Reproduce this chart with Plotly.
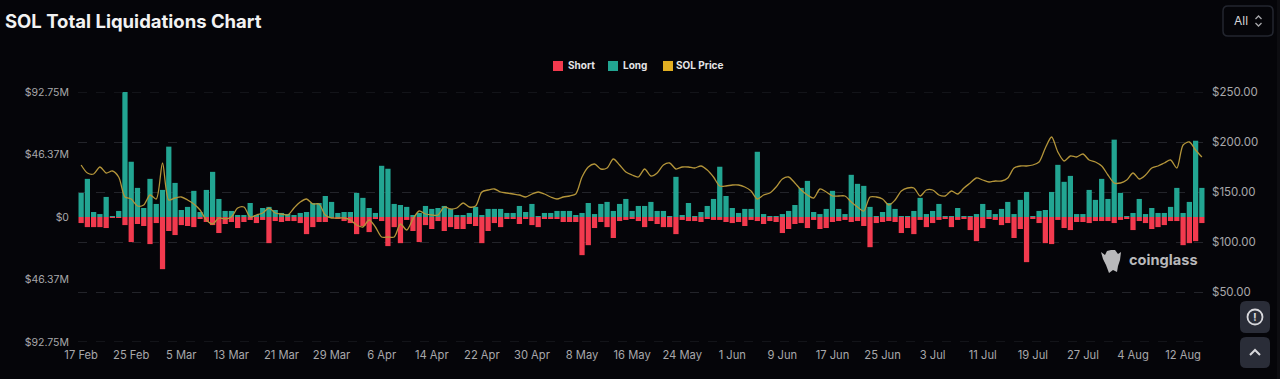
import pandas as pd
import plotly.graph_objects as go

dates = pd.date_range("2025-02-17", periods=180)
date_labels = [f"{d.day} {d.strftime('%b')}" for d in dates]

long_m = [17.9,28.3,3.7,2.2,14.9,0.7,4.5,92.75,41,21.6,6.7,28.3,9.7,20.1,52.2,25.3,5.2,7.5,19.4,3.7,
          20.1,33.5,13.4,4.5,4.5,1.5,1.5,10.4,1.5,6.7,7.5,5.2,3,2.2,1.5,3,3.7,10.4,10.4,15.6,
          11.2,3,3.7,3.7,17.9,14.2,6.7,3,38,35.8,9.7,8.9,7.5,1.5,3,8.2,6,6.7,8.2,6,
          1.5,1.5,3,7.5,1.5,6,6,6,3,3,8.2,3.7,9.7,0.7,3,3,4.5,4.5,4.5,1.5,
          3,10.4,2.2,9.7,11.2,4.5,9.7,13.4,4.5,8.2,8.2,11.2,4.5,4.5,0.7,29.8,1.5,10.4,0.7,3.7,
          8.2,13.4,37.3,15.6,6.7,3,6,6,48.4,2.2,0.7,0.7,2.2,4.5,8.9,21.6,26.8,3.7,2.2,6,
          19.4,6,2.2,31.3,24.6,23.1,7.5,0.7,3.7,10.4,6,0.7,0.7,4.5,14.2,2.2,4.5,9.7,0.7,0.7,
          6.7,0.7,0.7,2.2,9.7,5.2,2.2,6,11.2,2.2,12.7,18.6,0.7,4.5,5.2,18.6,38.7,26.1,30.5,2.2,
          2.2,20.1,12.7,28.3,13.4,57.4,17.9,0.7,3,13.4,2.2,6.7,3,3,7.5,21.6,3,11.2,56.6,21.6]

short_m = [4.5,7.5,7.5,7.5,8.2,0.7,0.7,6,18.6,5.2,6.7,20.1,4.5,38.7,10.4,13.4,6,6.7,7.5,1.5,
           3.7,6,11.9,5.2,3.7,8.2,3.7,2.2,4.5,2.2,19.4,3,3.7,3,3,4.5,12.7,7.5,3.7,3.7,
           0.7,1.5,3,4.5,12.7,6.7,11.2,1.5,3,21.6,7.5,19.4,2.2,10.4,18.6,6,8.9,3,10.4,7.5,
           8.9,8.9,5.2,6.7,19.4,10.4,4.5,7.5,1.5,1.5,5.2,1.5,6,7.5,1.5,1.5,1.5,3.7,3.7,3.7,
           28.3,20.9,8.2,3.7,7.5,15.6,3,2.2,1.5,3,7.5,3,5.2,7.5,7.5,12.7,2.2,3,3,3.7,
           1.5,2.2,2.2,3.7,4.5,3.7,6.7,2.2,3,5.2,3,3.7,11.9,8.9,5.2,4.5,8.2,2.2,8.9,8.2,
           3.7,3,2.2,3.7,3,6.7,22.4,4.5,3.7,3,3.7,11.9,8.2,12.7,2.2,7.5,4.5,2.2,1.5,7.5,
           2.2,1.5,9.7,17.9,8.2,1.5,2.2,6,4.5,15.6,8.9,33.5,1.5,4.5,19.4,20.1,2.2,8.2,9.7,3.7,
           3.7,4.5,3,3,3,4.5,2.2,1.5,9.7,3,4.5,8.9,7.5,6,3,3,20.9,19.4,17.9,4.5]

price = [177,169,168,175,169,171,165,145,143,136,137,147,143,179,142,144,145,142,138,132,
         122,118,124,123,125,134,135,125,127,129,134,129,128,127,134,140,143,138,138,127,
         124,124,124,122,117,115,122,115,105,105,105,118,112,123,131,128,127,127,135,133,
         134,139,135,136,150,152,153,150,149,148,147,145,148,150,148,145,143,145,146,148,
         165,175,178,173,174,183,177,170,167,165,173,166,169,177,179,173,175,175,174,176,
         172,165,156,156,157,157,155,151,143,147,149,155,163,165,159,152,147,144,153,150,
         146,146,146,140,135,131,145,145,143,137,142,151,154,154,146,152,152,147,146,151,
         148,154,159,164,162,160,161,161,164,174,176,176,177,180,194,205,190,181,186,185,
         188,182,180,176,167,159,159,162,169,163,167,174,176,179,182,174,197,200,192,185]

left_vals = [-92.75, -46.37, 0, 46.37, 92.75]
left_text = ["$92.75M", "$46.37M", "$0", "$46.37M", "$92.75M"]
right_vals = [0, 50, 100, 150, 200, 250]
right_text = ["", "$50.00", "$100.00", "$150.00", "$200.00", "$250.00"]
legend_names = ["Short", "Long", "SOL Price"]

BG = "#050509"
GREEN = "#22a592"
RED = "#f23a4e"
YELLOW = "#e0ae22"
LINE = "#b4953a"
TICK = "#a8a8ab"
GRID = "#23242a"
FONT = "Inter, Roboto, sans-serif"

W, H = 1280, 379
L, R, T, B = 78, 75, 92, 37
pw, ph = W - L - R, H - T - B
def X(p): return (p - L) / pw
def Y(p): return (H - B - p) / ph

def rounded(x0, y0, x1, y1, r):
    return (f"M {X(x0+r)} {Y(y0)} L {X(x1-r)} {Y(y0)} Q {X(x1)} {Y(y0)} {X(x1)} {Y(y0+r)} "
            f"L {X(x1)} {Y(y1-r)} Q {X(x1)} {Y(y1)} {X(x1-r)} {Y(y1)} "
            f"L {X(x0+r)} {Y(y1)} Q {X(x0)} {Y(y1)} {X(x0)} {Y(y1-r)} "
            f"L {X(x0)} {Y(y0+r)} Q {X(x0)} {Y(y0)} {X(x0+r)} {Y(y0)} Z")

def poly(points, close=True):
    s = "M " + " L ".join(f"{X(a)} {Y(b)}" for a, b in points)
    return s + (" Z" if close else "")

fig = go.Figure()
fig.add_bar(x=date_labels, y=[-v for v in short_m], name="Short", marker=dict(color=RED, line_width=0), width=0.84, showlegend=False)
fig.add_bar(x=date_labels, y=long_m, name="Long", marker=dict(color=GREEN, line_width=0), width=0.84, showlegend=False)
fig.add_scatter(x=date_labels, y=price, yaxis="y2", mode="lines", name="SOL Price", showlegend=False,
                line=dict(color=LINE, width=1.3, shape="spline", smoothing=0.8))

def chip(x0, y0, x1, y1, color):
    return dict(type="rect", xref="paper", yref="paper", x0=X(x0), x1=X(x1), y0=Y(y1), y1=Y(y0),
                line_width=0, fillcolor=color)

icon = dict(color="#d8d8dc", width=2)
shapes = [
    dict(type="line", xref="paper", yref="y2", x0=0, x1=1, y0=250, y1=250, line=dict(color=GRID, width=1, dash="dash")),
    dict(type="line", xref="paper", yref="y2", x0=0, x1=1, y0=0, y1=0, line=dict(color=GRID, width=1, dash="dash")),
    dict(type="path", xref="paper", yref="paper", path=rounded(1223, 6, 1273, 36, 5),
         line=dict(color="#23262f", width=1.5), fillcolor=BG),
    dict(type="path", xref="paper", yref="paper", path=rounded(1240, 301, 1270, 333, 6),
         line_width=0, fillcolor="#2a2d38"),
    dict(type="path", xref="paper", yref="paper", path=rounded(1240, 337, 1270, 368, 6),
         line_width=0, fillcolor="#2a2d38"),
    dict(type="circle", xref="paper", yref="paper", x0=X(1247.5), x1=X(1262.5), y0=Y(324.5), y1=Y(309.5),
         line=dict(color="#d8d8dc", width=1.8)),
    dict(type="path", xref="paper", yref="paper", path=poly([(1250, 355), (1255, 350), (1260, 355)], close=False), line=icon),
    dict(type="path", xref="paper", yref="paper", path=poly([(1255.5, 19), (1258.5, 16), (1261.5, 19)], close=False),
         line=dict(color="#a8a8ab", width=1.3)),
    dict(type="path", xref="paper", yref="paper", path=poly([(1255.5, 23), (1258.5, 26), (1261.5, 23)], close=False),
         line=dict(color="#a8a8ab", width=1.3)),
    dict(type="path", xref="paper", yref="paper",
         path=poly([(1101, 252), (1105, 255), (1107, 251), (1111, 250), (1115, 250), (1118, 254), (1121, 252), (1120, 260),
                    (1118, 266), (1117, 272), (1113, 270), (1109, 273), (1106, 265), (1103, 259)]),
         line_width=0, fillcolor="#b9b9bb"),
    chip(553, 61, 563, 71, RED),
    chip(608, 61, 618, 71, GREEN),
    chip(663, 61, 673, 71, YELLOW),
    chip(1277, 0, 1280, 379, "#0d0d11"),
]

annotations = [
    dict(x=X(4), y=Y(21), xref="paper", yref="paper", text="<b>SOL Total Liquidations Chart</b>", showarrow=False,
         xanchor="left", yanchor="middle", xshift=-1, font=dict(family=FONT, size=18.5, color="#f2f2f2")),
    dict(x=X(1232), y=Y(21), xref="paper", yref="paper", text="All", showarrow=False,
         xanchor="left", yanchor="middle", font=dict(family=FONT, size=12, color="#d5d5d8")),
    dict(x=X(1255), y=Y(317), xref="paper", yref="paper", text="<b>!</b>", showarrow=False,
         xanchor="center", yanchor="middle", font=dict(family=FONT, size=11, color="#d8d8dc")),
    dict(x=X(1127), y=Y(260), xref="paper", yref="paper", text="<b>coinglass</b>", showarrow=False,
         xanchor="left", yanchor="middle", font=dict(family=FONT, size=14.6, color="#b9b9bb")),
]
for name, px_x in zip(legend_names, [567, 622, 675]):
    annotations.append(dict(x=X(px_x), y=Y(65.5), xref="paper", yref="paper", text=f"<b>{name}</b>", showarrow=False,
                            xanchor="left", yanchor="middle", xshift=-1,
                            font=dict(family=FONT, size=10, color="#e4e4e6")))

fig.update_layout(
    width=W, height=H, autosize=False,
    margin=dict(l=L, r=R, t=T, b=B, pad=0),
    paper_bgcolor=BG, plot_bgcolor=BG,
    barmode="relative", bargap=0.16, showlegend=False,
    font=dict(family=FONT, size=10, color=TICK),
    xaxis=dict(type="category", range=[-0.5, 179.5], showgrid=False, zeroline=False, showline=False,
               tickmode="array", tickvals=date_labels[::8], ticktext=date_labels[::8], ticks="",
               ticklabelstandoff=5,
               tickfont=dict(family=FONT, size=11.2, color=TICK), tickangle=0, automargin=False),
    yaxis=dict(range=[-92.75, 92.75], tickmode="array", tickvals=left_vals, ticktext=left_text, showgrid=False,
               zeroline=False, showline=False, ticks="", ticklabelstandoff=8,
               tickfont=dict(family=FONT, size=10.5, color=TICK), automargin=False),
    yaxis2=dict(range=[0, 250], overlaying="y", side="right", tickmode="array", tickvals=right_vals,
                ticktext=right_text, showgrid=True, griddash="dash", gridcolor=GRID, gridwidth=1,
                zeroline=False, showline=False, ticks="", ticklabelstandoff=6,
                tickfont=dict(family=FONT, size=11.5, color=TICK), automargin=False),
    shapes=shapes, annotations=annotations,
)

fig.write_html("out.html", config=dict(displayModeBar=False),
               post_script="document.body.style.margin='0';document.body.style.background='#050509';document.body.style.overflow='hidden';")
